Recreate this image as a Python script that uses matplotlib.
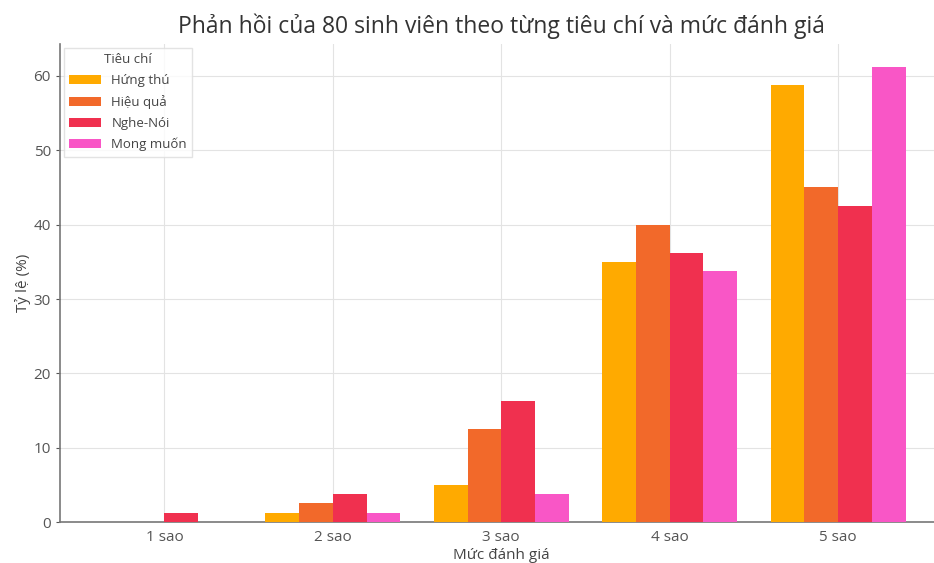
import numpy as np
import matplotlib
matplotlib.use('Agg')
import matplotlib.pyplot as plt

plt.rcParams['font.family'] = ['Open Sans', 'DejaVu Sans']

categories = ['1 sao', '2 sao', '3 sao', '4 sao', '5 sao']
series_names = ['Hứng thú', 'Hiệu quả', 'Nghe-Nói', 'Mong muốn']
hung_thu = [0, 1.25, 5.0, 35.0, 58.75]
hieu_qua = [0, 2.5, 12.5, 40.0, 45.0]
nghe_noi = [1.25, 3.75, 16.25, 36.25, 42.5]
mong_muon = [0, 1.25, 3.75, 33.75, 61.25]
colors = ['#FFAA00', '#F2692A', '#F0304F', '#F956C6']

fig = plt.figure(figsize=(9.34, 5.63), dpi=100)
ax = fig.add_axes([0.0642, 0.0728, 0.945, 0.849])

x = np.arange(len(categories))
width = 0.2
for i, (name, vals) in enumerate(zip(series_names, [hung_thu, hieu_qua, nghe_noi, mong_muon])):
    ax.bar(x + (i - 1.5) * width, vals, width, label=name, color=colors[i], zorder=3)

ax.set_xlim(-0.62, 4.62)
ax.set_ylim(0, 64.3)
ax.set_xticks(x)
ax.set_xticklabels(categories)
ax.set_yticks(range(0, 61, 10))
ax.grid(True, color='#e3e3e3', linewidth=0.8, zorder=0)
for s in ['top', 'right']:
    ax.spines[s].set_visible(False)
for s in ['left', 'bottom']:
    ax.spines[s].set_color('#777777')
    ax.spines[s].set_linewidth(1.2)
ax.tick_params(axis='both', colors='#555555', labelsize=11, length=3)
ax.tick_params(axis='x', length=0, pad=6)

ax.set_title('Phản hồi của 80 sinh viên theo từng tiêu chí và mức đánh giá',
             fontsize=16.5, color='#333333', pad=8)
ax.set_xlabel('Mức đánh giá', fontsize=11, color='#444444', labelpad=2)
ax.set_ylabel('Tỷ lệ (%)', fontsize=11, color='#444444', labelpad=2)

leg = ax.legend(title='Tiêu chí', loc='upper left', fontsize=9.5, title_fontsize=9.5,
                frameon=True, edgecolor='#dddddd', fancybox=False,
                borderaxespad=0.3, handlelength=2.4, labelspacing=0.6)
for t in leg.get_texts():
    t.set_color('#444444')
leg.get_title().set_color('#444444')

plt.savefig('out.png', dpi=100)
